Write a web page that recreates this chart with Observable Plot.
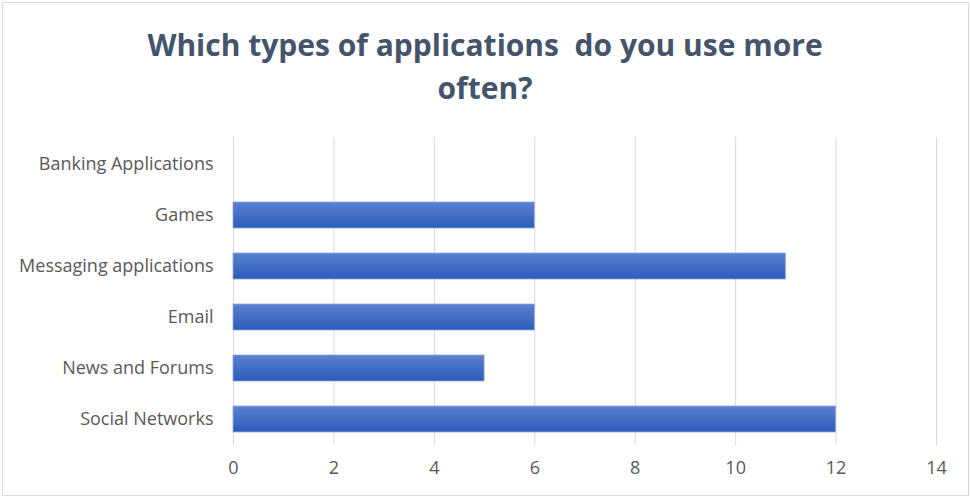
<!DOCTYPE html>
<html>
<head>
<meta charset="utf-8">
<script src="https://cdn.jsdelivr.net/npm/d3@7"></script>
<script src="https://cdn.jsdelivr.net/npm/@observablehq/plot@0.6"></script>
<style>
  html, body { margin: 0; padding: 0; background: #fff; }
  #frame { position: absolute; left: 2px; top: 2px; width: 965px; height: 492px; border: 1px solid #d9d9d9; background: #fff; }
  #title { position: absolute; left: 0; top: 23px; width: 970px; text-align: center; font-family: "Open Sans", sans-serif; font-weight: bold; font-size: 30px; line-height: 43px; color: #44546a; }
  #chart { position: absolute; left: 0; top: 130px; }
</style>
</head>
<body>
<div id="frame"></div>
<div id="title">Which types of applications&nbsp; do you use more<br>often?</div>
<div id="chart"></div>
<script>
const categories = ["Banking Applications", "Games", "Messaging applications", "Email", "News and Forums", "Social Networks"];
const values = [0, 6, 11, 6, 5, 12];
const xTicks = [0, 2, 4, 6, 8, 10, 12, 14];

const data = categories.map((c, i) => ({category: c, value: values[i]}));

const plot = Plot.plot({
  width: 970,
  height: 360,
  marginLeft: 233,
  marginRight: 34,
  marginTop: 7,
  marginBottom: 45,
  style: {fontFamily: "Open Sans, sans-serif", fontSize: "18px", color: "#595959", background: "transparent"},
  x: {domain: [0, 14], ticks: xTicks, label: null, tickSize: 0, tickPadding: 16},
  y: {domain: categories, label: null, paddingInner: 0.5, paddingOuter: 0.25, tickSize: 0, tickPadding: 20},
  marks: [
    Plot.gridX(xTicks, {stroke: "#d9d9d9", strokeOpacity: 1, strokeWidth: 1}),
    Plot.barX(data, {x: "value", y: "category", fill: "url(#barGrad)", stroke: "#8fa9dc", strokeWidth: 0.8})
  ]
});

const svg = d3.select(plot);
const defs = svg.insert("defs", ":first-child");
const g = defs.append("linearGradient").attr("id", "barGrad").attr("x1", 0).attr("y1", 0).attr("x2", 0).attr("y2", 1);
g.append("stop").attr("offset", "0%").attr("stop-color", "#5b80cf");
g.append("stop").attr("offset", "100%").attr("stop-color", "#2c5cbd");

document.getElementById("chart").appendChild(plot);
</script>
</body>
</html>
